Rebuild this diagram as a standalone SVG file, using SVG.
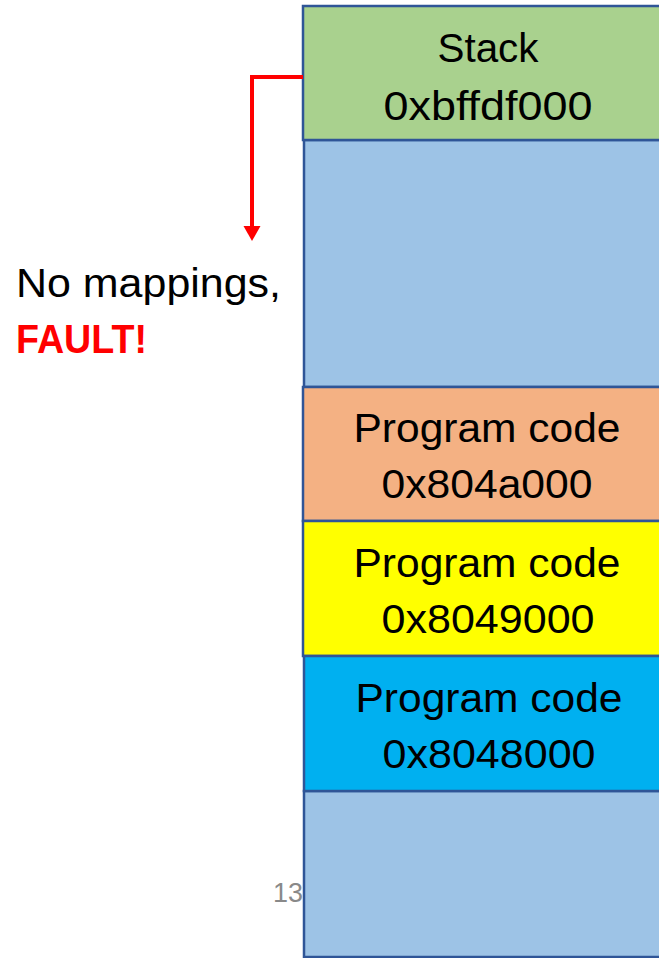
<svg xmlns="http://www.w3.org/2000/svg" width="659" height="958" viewBox="0 0 659 958">
<style>
.seg{stroke:#2F5597;stroke-width:2.5}
.lbl{font-family:"Liberation Sans",Arial,sans-serif;font-size:41px;fill:#000;text-anchor:middle}
.side{font-family:"Liberation Sans",Arial,sans-serif;font-size:41px}
</style>
<rect width="659" height="958" fill="#fff"/>
<g id="gap-bottom"><rect class="seg" x="304" y="791" width="370" height="166" fill="#9DC3E6"/></g>
<g id="gap-top"><rect class="seg" x="304" y="140" width="370" height="247" fill="#9DC3E6"/></g>
<g id="stack"><rect class="seg" x="303" y="6" width="370" height="134" fill="#A9D18E"/>
<text class="lbl" x="488" y="62" textLength="101" lengthAdjust="spacingAndGlyphs">Stack</text>
<text class="lbl" x="488" y="120" textLength="209" lengthAdjust="spacingAndGlyphs">0xbffdf000</text></g>
<g id="code-804a"><rect class="seg" x="303" y="387" width="370" height="134" fill="#F4B183"/>
<text class="lbl" x="487" y="442" textLength="267" lengthAdjust="spacingAndGlyphs">Program code</text>
<text class="lbl" x="487" y="498" textLength="211" lengthAdjust="spacingAndGlyphs">0x804a000</text></g>
<g id="code-8049"><rect class="seg" x="303" y="521" width="370" height="135" fill="#FFFF00"/>
<text class="lbl" x="487" y="577" textLength="267" lengthAdjust="spacingAndGlyphs">Program code</text>
<text class="lbl" x="488" y="633" textLength="213" lengthAdjust="spacingAndGlyphs">0x8049000</text></g>
<g id="code-8048"><rect class="seg" x="304" y="656" width="370" height="135" fill="#00B0F0"/>
<text class="lbl" x="489" y="712" textLength="267" lengthAdjust="spacingAndGlyphs">Program code</text>
<text class="lbl" x="489" y="768" textLength="213" lengthAdjust="spacingAndGlyphs">0x8048000</text></g>
<g id="connectors">
<polyline points="303,77 252,77 252,226" fill="none" stroke="#FF0000" stroke-width="4"/>
<path d="M243.5,226 L260.5,226 L252,241 z" fill="#FF0000"/>
</g>
<g id="fault-note">
<text class="side" x="16" y="297" fill="#000" textLength="265" lengthAdjust="spacingAndGlyphs">No mappings,</text>
<text class="side" x="16" y="353" fill="#FF0000" font-weight="bold" textLength="131" lengthAdjust="spacingAndGlyphs">FAULT!</text>
</g>
<text x="273" y="902" font-family="'Liberation Sans',Arial,sans-serif" font-size="27" fill="#898989" textLength="30" lengthAdjust="spacingAndGlyphs">13</text>
</svg>
